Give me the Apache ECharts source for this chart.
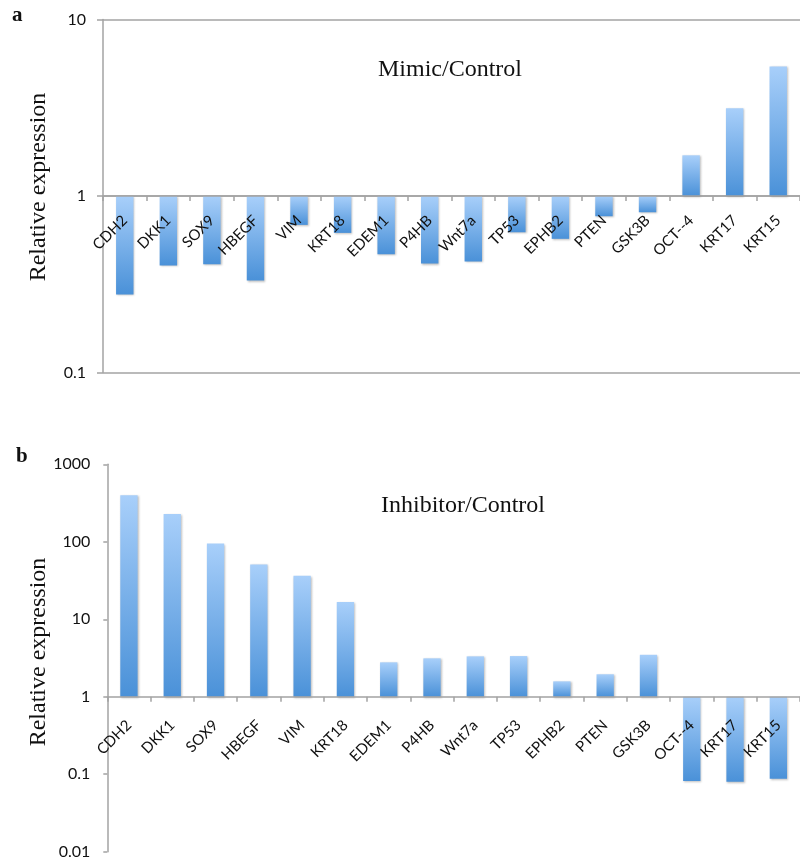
<!DOCTYPE html>
<html>
<head>
<meta charset="utf-8">
<script src="https://cdn.jsdelivr.net/npm/echarts@6/dist/echarts.min.js"></script>
<style>
  html, body { margin: 0; padding: 0; background: #fff; }
  #chart { width: 800px; height: 862px; }
</style>
</head>
<body>
<div id="chart"></div>
<script>
// Genes shown on both panels
const genes = ['CDH2', 'DKK1', 'SOX9', 'HBEGF', 'VIM', 'KRT18', 'EDEM1', 'P4HB',
               'Wnt7a', 'TP53', 'EPHB2', 'PTEN', 'GSK3B', 'OCT--4', 'KRT17', 'KRT15'];

// Panel a: fold change, miRNA mimic vs control
const mimicValues = [0.277, 0.404, 0.41, 0.332, 0.686, 0.618, 0.468, 0.414,
                     0.426, 0.623, 0.572, 0.768, 0.809, 1.70, 3.14, 5.42];

// Panel b: fold change, miRNA inhibitor vs control
const inhibitorValues = [400, 228, 95, 51, 36.4, 16.7, 2.78, 3.13,
                         3.32, 3.35, 1.58, 1.95, 3.48, 0.0817, 0.080, 0.0875];

// Log-axis tick labels
const ticksA = [0.1, 1, 10];
const ticksB = [0.01, 0.1, 1, 10, 100, 1000];

const chart = echarts.init(document.getElementById('chart'));

const axisGray = '#a3a3a3';
const labelFont = 'Lato, "Open Sans", sans-serif';
const serifFont = '"Liberation Serif", "DejaVu Serif", serif';

// Plot areas
const gridA = { left: 103, top: 19.5, width: 703, height: 353 };
const gridB = { left: 107.3, top: 464.3, width: 700, height: 387.4 };

// Bars grow from 1 (the baseline of a fold-change chart) toward their value
function barRenderer(params, api) {
  const idx = api.value(0);
  const val = api.value(1);
  const base = api.coord([idx, 1]);
  const tip = api.coord([idx, val]);
  const w = api.size([1, 0])[0] * 0.4;
  const y0 = Math.min(base[1], tip[1]);
  const h = Math.abs(base[1] - tip[1]);
  return {
    type: 'rect',
    shape: { x: base[0] - w / 2, y: y0, width: w, height: h },
    style: {
      fill: new echarts.graphic.LinearGradient(0, 0, 0, 1, [
        { offset: 0, color: '#a8cffa' },
        { offset: 1, color: '#4a91d8' }
      ]),
      shadowBlur: 2,
      shadowOffsetX: 1,
      shadowOffsetY: 1,
      shadowColor: 'rgba(0,0,0,0.25)'
    }
  };
}

function logLabel(v) {
  const n = Number(v);
  const hit = [].concat(ticksA, ticksB).find(t => Math.abs(Math.log10(t) - Math.log10(n)) < 1e-6);
  return hit !== undefined ? String(hit) : '';
}

function categoryAxis(gridIndex, offset, margin) {
  return {
    type: 'category', gridIndex: gridIndex, data: genes,
    boundaryGap: true,
    offset: offset,
    z: 10,
    axisLine: { lineStyle: { color: axisGray, width: 1.5 } },
    axisTick: { show: true, length: 5, lineStyle: { color: axisGray, width: 1.5 } },
    axisLabel: {
      rotate: 45, margin: margin, interval: 0,
      color: '#111', fontFamily: labelFont, fontSize: 15
    }
  };
}

function logAxis(gridIndex, ticks, tickLen, showSplit) {
  return {
    type: 'log', gridIndex: gridIndex, logBase: 10,
    min: ticks[0], max: ticks[ticks.length - 1], interval: 1,
    axisLine: { show: true, lineStyle: { color: axisGray, width: 1.5 } },
    axisTick: { show: true, length: tickLen, lineStyle: { color: axisGray, width: 1.5 } },
    splitLine: { show: showSplit, lineStyle: { color: axisGray, width: 1.5 } },
    axisLabel: { margin: 17, color: '#111', fontFamily: labelFont, fontSize: 16, formatter: logLabel }
  };
}

chart.setOption({
  animation: false,
  backgroundColor: '#fff',
  grid: [
    Object.assign({ containLabel: false }, gridA),
    Object.assign({ containLabel: false }, gridB)
  ],
  xAxis: [
    categoryAxis(0, -gridA.height / 2, 22),
    categoryAxis(1, -gridB.height * 2 / 5, 26)
  ],
  yAxis: [
    logAxis(0, ticksA, 6, true),
    logAxis(1, ticksB, 4, false)
  ],
  series: [
    {
      type: 'custom', xAxisIndex: 0, yAxisIndex: 0, z: 2,
      renderItem: barRenderer,
      data: mimicValues.map((v, i) => [i, v])
    },
    {
      type: 'custom', xAxisIndex: 1, yAxisIndex: 1, z: 2,
      renderItem: barRenderer,
      data: inhibitorValues.map((v, i) => [i, v])
    }
  ],
  graphic: [
    { type: 'text', left: 12, top: 5, style: { text: 'a', font: 'bold 21px ' + serifFont, fill: '#111' } },
    { type: 'text', left: 16, top: 446, style: { text: 'b', font: 'bold 21px ' + serifFont, fill: '#111' } },
    { type: 'text', left: 378, top: 58, style: { text: 'Mimic/Control', font: '24px ' + serifFont, fill: '#111' } },
    { type: 'text', left: 381, top: 494, style: { text: 'Inhibitor/Control', font: '24px ' + serifFont, fill: '#111' } },
    {
      type: 'text', x: 39, y: 187, rotation: Math.PI / 2,
      style: { text: 'Relative expression', font: '24px ' + serifFont, fill: '#111', align: 'center', verticalAlign: 'middle' }
    },
    {
      type: 'text', x: 39, y: 652, rotation: Math.PI / 2,
      style: { text: 'Relative expression', font: '24px ' + serifFont, fill: '#111', align: 'center', verticalAlign: 'middle' }
    }
  ]
});
</script>
</body>
</html>
